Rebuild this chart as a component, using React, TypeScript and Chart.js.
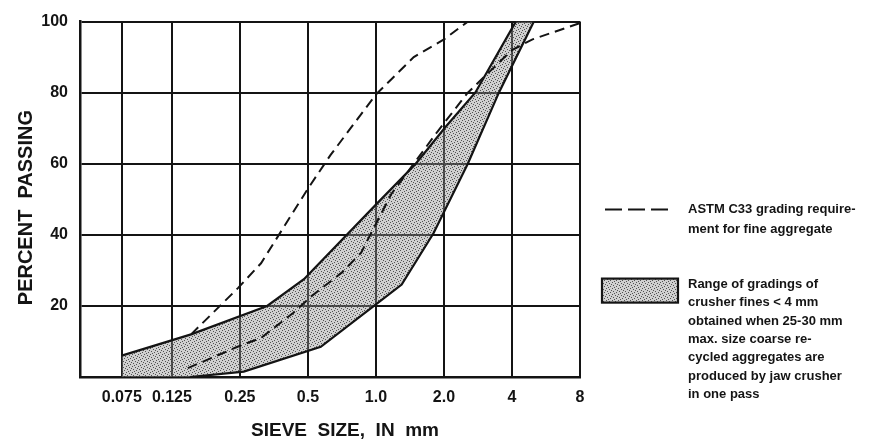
import React, { useEffect, useRef } from "react";
import { Chart, registerables } from "chart.js";

Chart.register(...registerables);

// ---- axis ticks ----
const xTickValues = [0.075, 0.125, 0.25, 0.5, 1, 2, 4, 8];
const xTickLabels = ["0.075", "0.125", "0.25", "0.5", "1.0", "2.0", "4", "8"];
const xMin = 0.049;
const xMax = 8;
const yMin = 0;
const yMax = 100;
const yStep = 20;

const xTitle = "SIEVE  SIZE,  IN  mm";
const yTitle = "PERCENT  PASSING";

// ---- range of gradings of crusher fines (band) ----
const bandUpperSize = [0.075, 0.152, 0.33, 0.48, 1.0, 1.5, 2.04, 2.75, 4.16];
const bandUpperPct = [6, 12, 20, 27.5, 48.5, 60, 70.5, 80, 100];
const bandLowerSize = [0.15, 0.26, 0.57, 0.98, 1.3, 1.8, 2.55, 3.5, 5.0];
const bandLowerPct = [0, 1.5, 8.5, 20, 26, 40.5, 60, 80, 100];
const bandCornerSize = [0.075];
const bandCornerPct = [0];

// ---- ASTM C33 grading limits ----
const astmUpperSize = [0.152, 0.245, 0.31, 0.5, 0.63, 1.0, 1.18, 1.47, 2.0, 2.55];
const astmUpperPct = [12, 25, 32, 53, 62.5, 79.5, 84, 90, 95, 100];
const astmLowerSize = [0.147, 0.244, 0.31, 0.43, 0.515, 0.71, 0.86, 1.17, 1.87, 2.55, 4.0, 4.93, 8.1, 9.9];
const astmLowerPct = [2.5, 8.5, 11, 18, 22.6, 29.5, 35, 51.5, 69, 80, 92, 95, 99.7, 101];

// ---- legend ----
const legendDashedText = ["ASTM C33 grading require-", "ment for fine aggregate"];
const legendBandText = [
  "Range of gradings of",
  "crusher fines < 4 mm",
  "obtained when 25-30 mm",
  "max. size coarse re-",
  "cycled aggregates are",
  "produced by jaw crusher",
  "in one pass",
];

const pts = (xs: number[], ys: number[]) => xs.map((x, i) => ({ x, y: ys[i] }));

const INK = "#141414";
const FONT = '"Liberation Sans", Arial, Helvetica, sans-serif';

function makePattern(): CanvasPattern | string {
  const c = document.createElement("canvas");
  c.width = 6;
  c.height = 6;
  const g = c.getContext("2d");
  if (!g) return "rgba(150,150,150,0.5)";
  g.fillStyle = "rgba(150,150,150,0.45)";
  g.fillRect(0, 0, 6, 6);
  g.fillStyle = "rgba(40,40,40,0.75)";
  const dots = [
    [0, 0], [3, 1], [1, 3], [4, 4], [2, 5], [5, 2],
  ];
  dots.forEach(([x, y]) => g.fillRect(x, y, 1, 1));
  return g.createPattern(c, "repeat") || "rgba(150,150,150,0.5)";
}

const overlayPlugin = {
  id: "overlay",
  afterDraw(chart: any) {
    const ctx = chart.ctx as CanvasRenderingContext2D;
    const a = chart.chartArea;
    ctx.save();
    ctx.fillStyle = INK;
    ctx.strokeStyle = INK;

    // axis titles
    ctx.font = `bold 19px ${FONT}`;
    ctx.textAlign = "center";
    ctx.textBaseline = "middle";
    ctx.fillText(xTitle, a.left + 265, a.bottom + 54);
    ctx.save();
    ctx.translate(a.left - 54, a.top + 186);
    ctx.rotate(-Math.PI / 2);
    ctx.font = `bold 20px ${FONT}`;
    ctx.fillText(yTitle, 0, 0);
    ctx.restore();

    // legend
    const lx = a.right + 25;
    const tx = a.right + 108;
    ctx.font = `bold 13px ${FONT}`;
    ctx.textAlign = "left";
    ctx.lineWidth = 2;
    ctx.setLineDash([17, 6]);
    ctx.beginPath();
    ctx.moveTo(lx, a.top + 188);
    ctx.lineTo(lx + 65, a.top + 188);
    ctx.stroke();
    ctx.setLineDash([]);
    legendDashedText.forEach((t, i) => ctx.fillText(t, tx, a.top + 188 + i * 20));

    const pat = makePattern();
    ctx.fillStyle = "#fff";
    ctx.fillRect(lx - 3, a.top + 257, 76, 24);
    ctx.fillStyle = pat as any;
    ctx.fillRect(lx - 3, a.top + 257, 76, 24);
    ctx.lineWidth = 2.2;
    ctx.strokeRect(lx - 3, a.top + 257, 76, 24);
    ctx.fillStyle = INK;
    legendBandText.forEach((t, i) => ctx.fillText(t, tx, a.top + 263 + i * 18.3));
    ctx.restore();
  },
};

export default function App() {
  const ref = useRef<HTMLCanvasElement | null>(null);

  useEffect(() => {
    if (!ref.current) return;
    const pattern = makePattern();
    const bandShape = [
      ...pts(bandUpperSize, bandUpperPct),
      ...pts(bandLowerSize, bandLowerPct).reverse(),
      ...pts(bandCornerSize, bandCornerPct),
    ];
    const chart = new Chart(ref.current, {
      type: "line",
      data: {
        datasets: [
          {
            label: "band-fill",
            data: bandShape,
            borderWidth: 0,
            borderColor: "rgba(0,0,0,0)",
            backgroundColor: pattern as any,
            fill: "shape" as any,
            pointRadius: 0,
            tension: 0,
            order: 10,
          },
          {
            label: "band-upper",
            data: pts(bandUpperSize, bandUpperPct),
            borderColor: INK,
            borderWidth: 2.2,
            pointRadius: 0,
            tension: 0,
            fill: false,
            order: 2,
          },
          {
            label: "band-lower",
            data: pts(bandLowerSize, bandLowerPct),
            borderColor: INK,
            borderWidth: 2.2,
            pointRadius: 0,
            tension: 0,
            fill: false,
            order: 2,
          },
          {
            label: "ASTM upper",
            data: pts(astmUpperSize, astmUpperPct),
            borderColor: INK,
            borderWidth: 2,
            borderDash: [10, 6],
            pointRadius: 0,
            tension: 0,
            fill: false,
            order: 1,
          },
          {
            label: "ASTM lower",
            data: pts(astmLowerSize, astmLowerPct),
            borderColor: INK,
            borderWidth: 2,
            borderDash: [10, 6],
            pointRadius: 0,
            tension: 0,
            fill: false,
            clip: false as any,
            order: 1,
          },
        ],
      },
      options: {
        animation: false,
        responsive: true,
        maintainAspectRatio: false,
        layout: { padding: { top: 14, right: 299, left: 0, bottom: 0 } },
        plugins: {
          legend: { display: false },
          tooltip: { enabled: false },
          title: { display: false },
        },
        scales: {
          x: {
            type: "logarithmic",
            min: xMin,
            max: xMax,
            afterBuildTicks: (scale: any) => {
              scale.ticks = xTickValues.map((v) => ({ value: v }));
            },
            afterFit: (scale: any) => {
              scale.height = 64;
            },
            grid: { color: INK, lineWidth: 2, drawTicks: false },
            border: { color: INK, width: 2.5 },
            ticks: {
              autoSkip: false,
              maxRotation: 0,
              padding: 11,
              color: INK,
              font: { family: FONT, size: 16, weight: "bold" },
              callback: (v: any) => {
                const i = xTickValues.indexOf(Number(v));
                return i >= 0 ? xTickLabels[i] : "";
              },
            },
          },
          y: {
            type: "linear",
            min: yMin,
            max: yMax,
            afterFit: (scale: any) => {
              scale.width = 80;
            },
            grid: { color: INK, lineWidth: 2, drawTicks: false },
            border: { color: INK, width: 2.5 },
            ticks: {
              stepSize: yStep,
              padding: 12,
              color: INK,
              font: { family: FONT, size: 16, weight: "bold" },
              callback: (v: any) => (Number(v) === 0 ? "" : String(v)),
            },
          },
        },
      },
      plugins: [overlayPlugin],
    });
    return () => chart.destroy();
  }, []);

  return (
    <div
      style={{
        position: "fixed",
        left: 0,
        top: 0,
        width: 879,
        height: 441,
        background: "#fff",
      }}
    >
      <canvas ref={ref} />
    </div>
  );
}
